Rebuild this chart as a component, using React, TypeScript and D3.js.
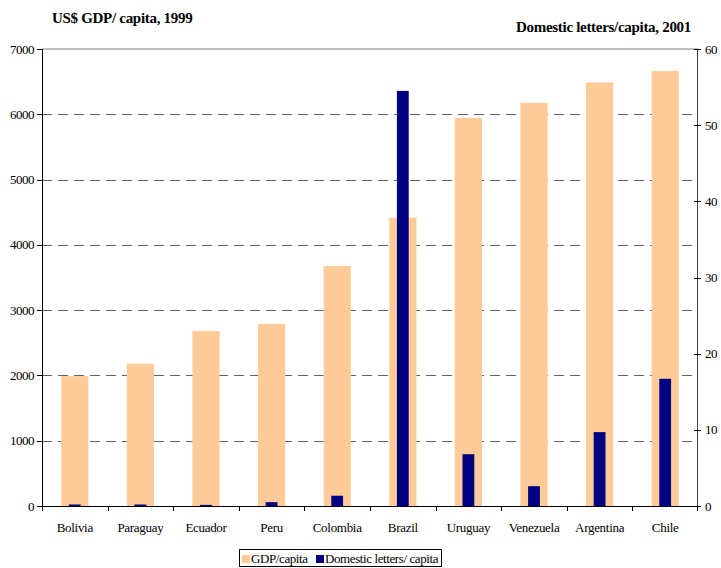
import React from "react";
import * as d3 from "d3";

// Countries, ordered by GDP per capita
const countries = ["Bolivia", "Paraguay", "Ecuador", "Peru", "Colombia", "Brazil", "Uruguay", "Venezuela", "Argentina", "Chile"];
// US$ GDP per capita, 1999
const gdpPerCapita = [1990, 2180, 2680, 2790, 3676, 4416, 5943, 6177, 6490, 6663];
// Domestic letters per capita, 2001
const lettersPerCapita = [0.2, 0.2, 0.15, 0.5, 1.35, 54.5, 6.8, 2.6, 9.7, 16.7];

const leftTicks = [0, 1000, 2000, 3000, 4000, 5000, 6000, 7000];
const rightTicks = [0, 10, 20, 30, 40, 50, 60];
const gridValues = [1000, 2000, 3000, 4000, 5000, 6000];

const W = 721;
const H = 568;
const plot = { left: 42, right: 698, top: 49, bottom: 506 };

const PEACH = "#FFCC99";
const NAVY = "#000080";
const FONT = "Liberation Serif";

export default function App() {
  const x = d3.scaleBand<string>().domain(countries).range([plot.left, plot.right]).padding(0);
  const yL = d3.scaleLinear().domain([0, 7000]).range([plot.bottom, plot.top]);
  const yR = d3.scaleLinear().domain([0, 60]).range([plot.bottom, plot.top]);
  const bw = x.bandwidth();
  const gdpW = bw * 0.415;
  const letW = bw * 0.18;

  return (
    <svg
      width={W}
      height={H}
      viewBox={`0 0 ${W} ${H}`}
      fontFamily={FONT}
      style={{ position: "absolute", left: 0, top: 0, background: "#fff" }}
    >
      {/* titles */}
      <text x={52} y={23} fontFamily={FONT} fontSize={15} fontWeight="bold" letterSpacing={-0.3} fill="#000">
        US$ GDP/ capita, 1999
      </text>
      <text x={691} y={32} fontFamily={FONT} fontSize={15} fontWeight="bold" letterSpacing={-0.3} textAnchor="end" fill="#000">
        Domestic letters/capita, 2001
      </text>

      {/* top border and dashed gridlines */}
      <line x1={plot.left} x2={plot.right} y1={yL(7000)} y2={yL(7000)} stroke="#808080" strokeWidth={1} />
      {gridValues.map((v) => (
        <line
          key={v}
          x1={plot.left}
          x2={plot.right}
          y1={Math.round(yL(v)) + 0.5}
          y2={Math.round(yL(v)) + 0.5}
          stroke="#606060"
          strokeWidth={1}
          strokeDasharray="10,6"
        />
      ))}

      {/* GDP bars */}
      {countries.map((c, i) => {
        const cx = (x(c) as number) + bw / 2;
        return (
          <rect
            key={"g" + c}
            x={cx - gdpW / 2}
            y={yL(gdpPerCapita[i])}
            width={gdpW}
            height={plot.bottom - yL(gdpPerCapita[i])}
            fill={PEACH}
          />
        );
      })}
      {/* letters bars */}
      {countries.map((c, i) => {
        const cx = (x(c) as number) + bw / 2;
        return (
          <rect
            key={"l" + c}
            x={cx - letW / 2}
            y={yR(lettersPerCapita[i])}
            width={letW}
            height={plot.bottom - yR(lettersPerCapita[i])}
            fill={NAVY}
          />
        );
      })}

      {/* left axis */}
      <line x1={plot.left + 0.5} x2={plot.left + 0.5} y1={plot.top} y2={plot.bottom} stroke="#000" strokeWidth={1} />
      {leftTicks.map((v) => (
        <g key={"lt" + v}>
          <line x1={plot.left - 5} x2={plot.left} y1={Math.round(yL(v)) + 0.5} y2={Math.round(yL(v)) + 0.5} stroke="#000" />
          <text x={34} y={yL(v) + 4.5} fontFamily={FONT} fontSize={13} textAnchor="end" letterSpacing={-0.5} fill="#000">
            {v}
          </text>
        </g>
      ))}

      {/* right axis */}
      <line x1={plot.right - 0.5} x2={plot.right - 0.5} y1={plot.top} y2={plot.bottom} stroke="#404040" strokeWidth={1} />
      {rightTicks.map((v) => (
        <g key={"rt" + v}>
          <line x1={plot.right - 4} x2={plot.right + 3} y1={Math.round(yR(v)) + 0.5} y2={Math.round(yR(v)) + 0.5} stroke="#000" />
          <text x={705} y={yR(v) + 4.5} fontFamily={FONT} fontSize={13} letterSpacing={-0.5} fill="#000">
            {v}
          </text>
        </g>
      ))}

      {/* category axis */}
      <line x1={plot.left} x2={plot.right} y1={plot.bottom + 0.5} y2={plot.bottom + 0.5} stroke="#000" strokeWidth={1} />
      {countries.map((c) => (
        <line
          key={"bt" + c}
          x1={Math.round(x(c) as number) + 0.5}
          x2={Math.round(x(c) as number) + 0.5}
          y1={plot.bottom}
          y2={plot.bottom + 5}
          stroke="#000"
        />
      ))}
      <line x1={plot.right - 0.5} x2={plot.right - 0.5} y1={plot.bottom} y2={plot.bottom + 5} stroke="#000" />
      {countries.map((c) => (
        <text
          key={"bl" + c}
          x={(x(c) as number) + bw / 2}
          y={532}
          fontFamily={FONT}
          fontSize={13}
          textAnchor="middle"
          letterSpacing={-0.3}
          fill="#000"
        >
          {c}
        </text>
      ))}

      {/* legend */}
      <rect x={239.5} y={549.5} width={202} height={17} fill="#fff" stroke="#000" strokeWidth={1} />
      <rect x={242} y={555} width={8} height={8} fill={PEACH} />
      <text x={251} y={563} fontFamily={FONT} fontSize={13} letterSpacing={-0.4} fill="#000">GDP/capita</text>
      <rect x={316} y={555} width={8} height={8} fill={NAVY} />
      <text x={325} y={563} fontFamily={FONT} fontSize={13} letterSpacing={-0.4} fill="#000">Domestic letters/ capita</text>
    </svg>
  );
}
